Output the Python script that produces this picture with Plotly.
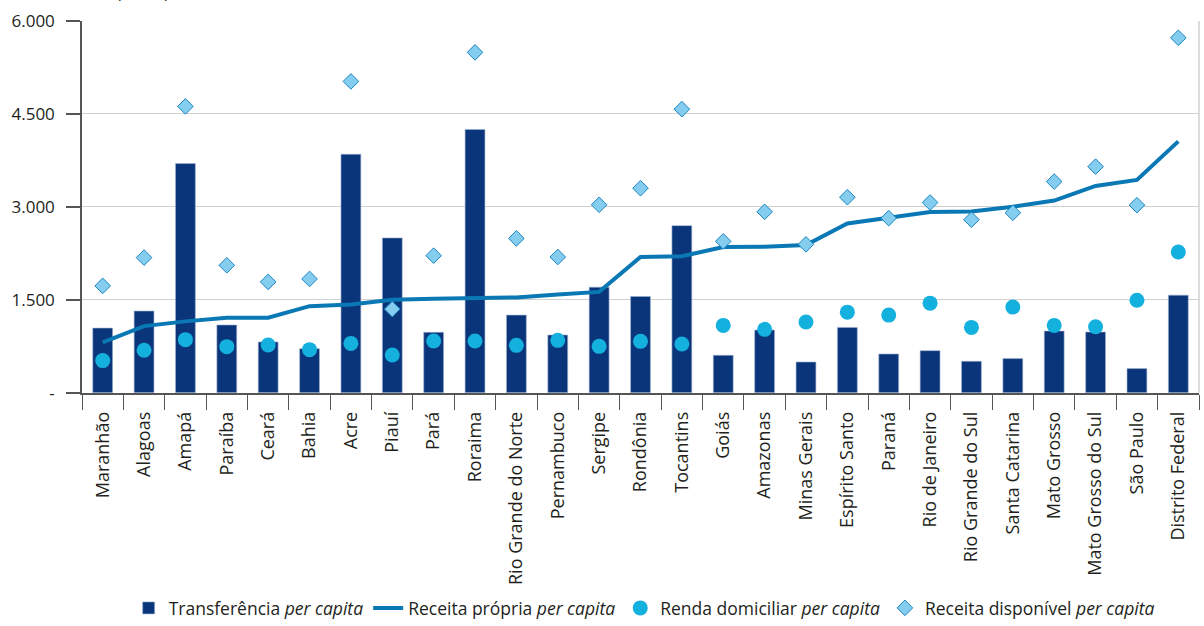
import plotly.graph_objects as go

estados = [
    "Maranhão", "Alagoas", "Amapá", "Paraíba", "Ceará", "Bahia", "Acre", "Piauí",
    "Pará", "Roraima", "Rio Grande do Norte", "Pernambuco", "Sergipe", "Rondônia",
    "Tocantins", "Goiás", "Amazonas", "Minas Gerais", "Espírito Santo", "Paraná",
    "Rio de Janeiro", "Rio Grande do Sul", "Santa Catarina", "Mato Grosso",
    "Mato Grosso do Sul", "São Paulo", "Distrito Federal",
]

transferencia = [
    1045, 1320, 3700, 1095, 820, 713, 3850, 2500, 976, 4250, 1254, 933, 1705,
    1555, 2698, 606, 1013, 498, 1056, 627, 681, 509, 552, 997, 981, 391, 1576,
]

receita_propria = [
    815, 1077, 1153, 1211, 1211, 1399, 1426, 1501, 1517, 1533, 1539, 1587, 1629,
    2192, 2203, 2353, 2358, 2385, 2734, 2825, 2916, 2927, 3002, 3103, 3339, 3436, 4057,
]

renda_domiciliar = [
    520, 686, 858, 745, 772, 697, 798, 611, 836, 836, 766, 847, 750,
    831, 788, 1088, 1024, 1142, 1302, 1254, 1447, 1056, 1383, 1088, 1067, 1495, 2273,
]

receita_disponivel = [
    1726, 2182, 4622, 2058, 1790, 1838, 5025, 1351, 2214, 5494, 2492, 2192, 3034,
    3302, 4578, 2444, 2921, 2396, 3157, 2819, 3071, 2793, 2905, 3409, 3650, 3028, 5729,
]

y_tickvals = [0, 1500, 3000, 4500, 6000]
y_ticktext = ["-", "1.500", "3.000", "4.500", "6.000"]

FONT = "Open Sans, Noto Sans, sans-serif"
TXT = "#231f20"

fig = go.Figure()

fig.add_trace(go.Bar(
    x=estados, y=transferencia,
    name="Transferência <i>per capita</i>",
    marker=dict(color="#0b357a", line=dict(color="#9fb4d4", width=0.6)),
    width=0.48,
))

fig.add_trace(go.Scatter(
    x=estados, y=receita_propria, mode="lines",
    name="Receita própria <i>per capita</i>",
    line=dict(color="#0a78b4", width=4),
))

fig.add_trace(go.Scatter(
    x=estados, y=renda_domiciliar, mode="markers",
    name="Renda domiciliar <i>per capita</i>",
    marker=dict(symbol="circle", size=15, color="#14b0de", line=dict(width=0)),
))

fig.add_trace(go.Scatter(
    x=estados, y=receita_disponivel, mode="markers",
    name="Receita disponível <i>per capita</i>",
    marker=dict(symbol="diamond", size=12, color="#85cdee",
                line=dict(color="#1a85c3", width=1)),
))

fig.update_layout(
    width=1204, height=626,
    margin=dict(l=82, r=5, t=21, b=232),
    plot_bgcolor="white", paper_bgcolor="white",
    font=dict(family=FONT, size=16, color=TXT),
    showlegend=True,
    legend=dict(
        orientation="h",
        xref="container", yref="container",
        x=0.535, xanchor="center",
        y=0.0, yanchor="bottom",
        font=dict(family=FONT, size=17.5, color=TXT),
        itemwidth=30,
        tracegroupgap=0,
    ),
    xaxis=dict(
        type="category",
        tickangle=-90,
        tickson="boundaries",
        ticks="outside", ticklen=15, tickcolor="#555555", tickwidth=1,
        showline=True, linecolor="#555555", linewidth=1.5,
        showgrid=False,
        tickfont=dict(family=FONT, size=18, color=TXT),
        ticklabelstandoff=10,
        range=[-0.5, len(estados) - 0.5],
    ),
    yaxis=dict(
        range=[0, 6000],
        tickvals=y_tickvals, ticktext=y_ticktext,
        ticks="outside", ticklen=14, tickcolor="#555555", tickwidth=1.5,
        showline=True, linecolor="#555555", linewidth=1.5,
        showgrid=True, gridcolor="#d0d0d0", gridwidth=1,
        zeroline=False,
        tickfont=dict(family=FONT, size=17, color=TXT),
        ticklabelstandoff=8,
    ),
    shapes=[
        dict(type="line", xref="paper", yref="paper", x0=1, x1=1, y0=0, y1=1,
             line=dict(color="#d0d0d0", width=1.5)),
    ],
    annotations=[
        dict(text="(Em R$ per capita)", xref="paper", yref="paper",
             x=-0.02, y=1, xanchor="left", yanchor="bottom", yshift=17,
             showarrow=False, font=dict(family=FONT, size=16, color=TXT)),
    ],
)

fig.write_html("out.html")
